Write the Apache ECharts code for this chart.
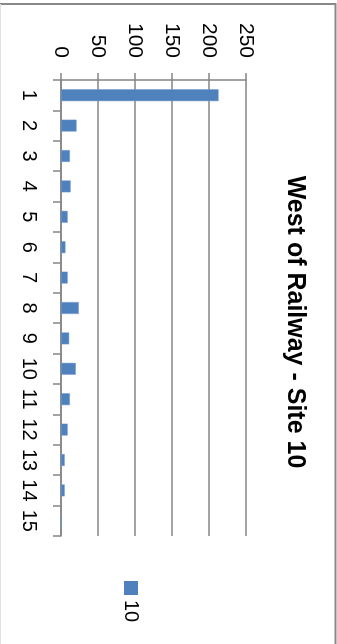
<!DOCTYPE html>
<html>
<head>
<meta charset="utf-8">
<script src="https://cdn.jsdelivr.net/npm/echarts@6/dist/echarts.min.js"></script>
<style>
  html, body { margin: 0; padding: 0; background: #fff; overflow: hidden; }
  body { width: 337px; height: 644px; position: relative; }
  /* The column chart is laid out 644x337 and turned a quarter clockwise */
  #chart {
    position: absolute; left: 0; top: 0;
    width: 644px; height: 337px;
    transform-origin: 0 0;
    transform: translate(337px, 0) rotate(90deg);
  }
</style>
</head>
<body>
<div id="chart"></div>
<script>
// Sample numbers 1..15 and their counts for site 10
const categories = ['1','2','3','4','5','6','7','8','9','10','11','12','13','14','15'];
const seriesName = '10';
const values = [213, 21, 12, 13, 9, 6, 9, 24, 11, 20, 12, 9, 5, 5, 0];
const valueTicks = [0, 50, 100, 150, 200, 250];

const gray = '#858585';
const font = '"Liberation Sans", Arial, sans-serif';

const chart = echarts.init(document.getElementById('chart'), null, { renderer: 'canvas' });

chart.setOption({
  animation: false,
  backgroundColor: '#ffffff',
  title: {
    text: 'West of Railway - Site 10',
    left: 'center',
    top: 25,
    textStyle: { fontFamily: font, fontSize: 25, fontWeight: 'bold', color: '#000' }
  },
  legend: {
    data: [{ name: seriesName, icon: 'rect', itemStyle: { borderWidth: 0 } }],
    left: 576,
    top: 191,
    orient: 'vertical',
    itemWidth: 14,
    itemHeight: 14,
    itemGap: 6,
    textStyle: { fontFamily: font, fontSize: 20, color: '#000' }
  },
  grid: { left: 80, right: 108, top: 91, bottom: 61, containLabel: false },
  xAxis: {
    type: 'category',
    data: categories,
    boundaryGap: true,
    axisLine: { show: true, lineStyle: { color: gray, width: 1.5 } },
    axisTick: { show: true, inside: false, length: 8, lineStyle: { color: gray, width: 1.5 } },
    axisLabel: { margin: 22, fontFamily: font, fontSize: 20, color: '#000', interval: 0 },
    splitLine: { show: false }
  },
  yAxis: {
    type: 'value',
    min: valueTicks[0],
    max: valueTicks[valueTicks.length - 1],
    interval: valueTicks[1] - valueTicks[0],
    axisLine: { show: true, lineStyle: { color: gray, width: 1.5 } },
    axisTick: { show: true, inside: false, length: 7, lineStyle: { color: gray, width: 1.5 } },
    axisLabel: { margin: 22, fontFamily: font, fontSize: 21, color: '#000' },
    splitLine: { show: true, lineStyle: { color: gray, width: 1.5 } }
  },
  series: [{
    name: seriesName,
    type: 'bar',
    data: values,
    barWidth: '39%',
    itemStyle: { color: '#4F81BD', borderColor: '#6e98cc', borderWidth: 0.5 }
  }],
  graphic: [
    {
      type: 'rect',
      silent: true,
      shape: { x: 4, y: 1.5, width: 700, height: 345 },
      style: { fill: 'none', stroke: '#898989', lineWidth: 2 }
    },
    {
      type: 'line',
      silent: true,
      shape: { x1: 4, y1: 336.5, x2: 644, y2: 336.5 },
      style: { stroke: '#e2e2e2', lineWidth: 1 }
    }
  ]
});
</script>
</body>
</html>
